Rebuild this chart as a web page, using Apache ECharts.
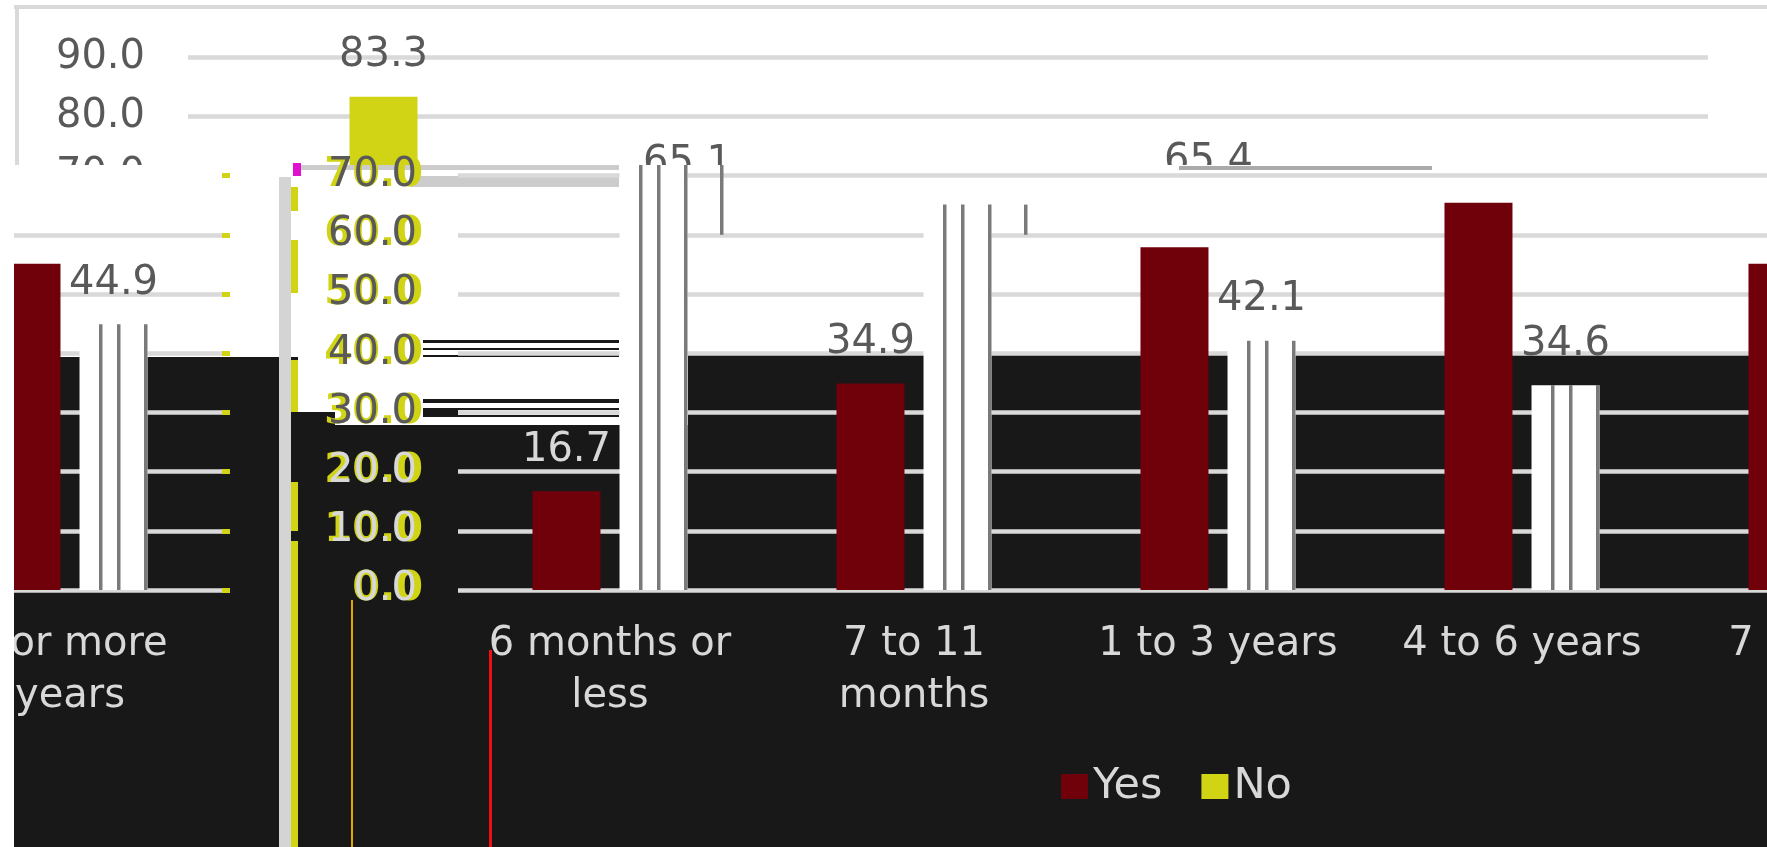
<!DOCTYPE html>
<html>
<head>
<meta charset="utf-8">
<style>html,body{margin:0;padding:0;background:#fff;overflow:hidden}#w{position:relative;width:1767px;height:847px;overflow:hidden}#c{position:absolute;left:-1400px;top:-10px;width:3400px;height:857px}</style>
<script src="https://cdn.jsdelivr.net/npm/echarts@6/dist/echarts.min.js"></script>
</head>
<body>
<div id="w"><div id="c"></div></div>
<script>
const categories = ['6 months or\nless', '7 to 11\nmonths', '1 to 3 years', '4 to 6 years', '7 or more\nyears'];
const yesValues = [16.7, 34.9, 57.9, 65.4, 55.1];
const noValues = [83.3, 65.1, 42.1, 34.6, 44.9];

const RED = '#70000a', YEL = '#d0d415', DARK = '#181818', GRID = '#d9d9d9', TXT = '#595959', LIGHT = '#d8d8d8';
const FONT = '"DejaVu Sans", sans-serif', FS = 40;
const OX = 1400, OY = 10;
const BAND_TOP = 165, AXIS_Y = 590, PX10 = 59.2;
const gridHeight = AXIS_Y - BAND_TOP, lowMax = gridHeight / PX10 * 10;

function fmt(v) { return Math.abs(v / 10 - Math.round(v / 10)) < 1e-6 ? v.toFixed(1) : ''; }
function rect(x, y, w, h, fill, z) {
  return { type: 'rect', silent: true, z: z, shape: { x: x + OX, y: y + OY, width: w, height: h }, style: { fill } };
}
const splitLine = { show: true, showMaxLine: false, lineStyle: { color: GRID, width: 4.5 } };
function xAx(gridIndex, z, labels) {
  return { type: 'category', gridIndex, z, data: categories, axisLine: { show: false }, axisTick: { show: false },
    axisLabel: labels ? { show: true, interval: 0, color: LIGHT, fontFamily: FONT, fontSize: FS, lineHeight: 52, margin: 29, hideOverlap: false } : { show: false } };
}
function stripes(params, api) {
  const i = api.value(0), v = api.value(1);
  const c = api.coord([i, v]), base = api.coord([i, 0]);
  const kids = [29, 47, 74].map(o => ({ type: 'rect', shape: { x: c[0] + o, y: c[1], width: 3.5, height: base[1] - c[1] }, style: { fill: '#7a7a7a' } }));
  if (v > 60) {
    const t = api.coord([i, 60]);
    kids.push({ type: 'rect', shape: { x: c[0] + 110, y: c[1], width: 3.5, height: t[1] - c[1] }, style: { fill: '#7a7a7a' } });
  }
  return { type: 'group', children: kids };
}
function barLabel(color) {
  return { show: true, position: 'top', distance: 21, color, fontFamily: FONT, fontSize: FS, formatter: p => p.value.toFixed(1) };
}
function labelled(arr, shown, color) {
  return arr.map((v, i) => ({ value: v, label: shown.includes(i) ? barLabel(color(i)) : { show: false } }));
}
function panelSeries(ax, z, yesShown, noShown, yesColor) {
  return [
    { name: 'Yes', type: 'bar', xAxisIndex: ax, yAxisIndex: ax, z, barWidth: 68, barGap: '28%', itemStyle: { color: RED }, data: labelled(yesValues, yesShown, yesColor) },
    { name: 'No', type: 'bar', xAxisIndex: ax, yAxisIndex: ax, z, barWidth: 68, barGap: '28%', itemStyle: { color: '#ffffff' }, data: labelled(noValues, noShown, () => TXT) },
    { name: 'No', type: 'custom', xAxisIndex: ax, yAxisIndex: ax, z: z + 1, clip: true, silent: true, renderItem: stripes, encode: { x: 0, y: 1 }, data: noValues.map((v, i) => [i, v]) }
  ];
}

const backdrop = [
  rect(-1400, 165, 3400, 692, '#ffffff', 5),
  rect(14, 5, 1753, 4, GRID, 6), rect(15, 7, 4, 158, GRID, 6),
  rect(14, 357, 265, 490, DARK, 6),
  rect(291, 412, 44, 435, DARK, 6),
  rect(291, 357, 7, 55, DARK, 6),
  rect(335, 425, 353, 422, DARK, 6),
  rect(688, 355, 1079, 492, DARK, 6),
  rect(423, 340, 196, 3, DARK, 6), rect(423, 348, 196, 2, DARK, 6), rect(423, 355, 196, 2, DARK, 6),
  rect(423, 399, 196, 4, DARK, 6), rect(423, 408, 196, 2, DARK, 6), rect(423, 415, 196, 2, DARK, 6), rect(423, 408, 35, 9, DARK, 6),
  rect(1179, 166, 253, 4, '#aaaaaa', 6),
  rect(301, 165, 318, 5, '#cccccc', 6), rect(410, 176, 209, 11, '#cccccc', 6),
  // overlays
  rect(-1400, -10, 1414, 857, '#ffffff', 30),
  rect(279, 177, 12, 670, '#d4d4d4', 30),
  rect(291, 187, 7, 24, YEL, 30), rect(291, 240, 7, 53, YEL, 30), rect(291, 360, 7, 52, YEL, 30),
  rect(291, 482, 7, 49, YEL, 30), rect(291, 541, 7, 306, YEL, 30),
  rect(293, 163, 8, 13, '#e010d0', 30),
  rect(351, 600, 2, 247, '#e0a800', 30),
  rect(489, 650, 3, 197, '#f01010', 30)
];

const option = {
  animation: false,
  backgroundColor: '#ffffff',
  textStyle: { fontFamily: FONT },
  graphic: { elements: backdrop },
  legend: { z: 40, left: 1056 + OX, top: 760 + OY, icon: 'rect', itemWidth: 27, itemHeight: 25, itemGap: 39,
    data: ['Yes', 'No'], selectedMode: false, textStyle: { color: LIGHT, fontFamily: FONT, fontSize: 43 } },
  grid: [
    { left: 188 + OX, width: 1520, top: AXIS_Y - 10 * PX10 + OY, height: 10 * PX10 },
    { left: 458 - 1756 + OX, width: 1520, top: BAND_TOP + OY, height: gridHeight },
    { left: 458 + OX, width: 1520, top: BAND_TOP + OY, height: gridHeight }
  ],
  xAxis: [xAx(0, 0, false), xAx(1, 10, true), xAx(2, 20, true)],
  yAxis: [
    { type: 'value', gridIndex: 0, min: 0, max: 100, interval: 10, axisLine: { show: false }, axisTick: { show: false },
      splitLine: { show: true, showMaxLine: false, lineStyle: { color: GRID, width: 4.5 } },
      axisLabel: { color: TXT, fontFamily: FONT, fontSize: FS, margin: 43, formatter: v => (v < 100 ? v.toFixed(1) : '') } },
    { type: 'value', gridIndex: 1, z: 10, position: 'right', min: 0, max: lowMax, interval: 10, axisLine: { show: false },
      axisTick: { show: true, length: 8, lineStyle: { color: YEL, width: 5 }, customValues: [0, 10, 20, 30, 40, 50, 60, 70] },
      splitLine, axisLabel: { show: false } },
    { type: 'value', gridIndex: 2, z: 20, min: 0, max: lowMax, interval: 10, axisLine: { show: false }, axisTick: { show: false }, splitLine,
      axisLabel: { fontFamily: FONT, fontSize: FS, margin: 41, formatter: fmt, color: v => (Number(v) <= 20 ? LIGHT : TXT) } },
    { type: 'value', gridIndex: 2, z: 19, position: 'left', min: 0, max: lowMax, interval: 10, axisLine: { show: false }, axisTick: { show: false }, splitLine: { show: false },
      axisLabel: { fontFamily: FONT, fontSize: FS, fontWeight: 'bold', margin: 35, formatter: fmt, color: YEL } }
  ],
  series: [
    { name: 'Yes', type: 'bar', xAxisIndex: 0, yAxisIndex: 0, z: 2, barWidth: 68, barGap: '28%', itemStyle: { color: RED }, data: yesValues.map((v, i) => ({ value: v, label: i === 3 ? barLabel(TXT) : { show: false } })) },
    { name: 'No', type: 'bar', xAxisIndex: 0, yAxisIndex: 0, z: 2, barWidth: 68, barGap: '28%', itemStyle: { color: YEL }, data: noValues.map((v, i) => ({ value: v, label: i <= 1 ? barLabel(TXT) : { show: false } })) }
  ].concat(
    panelSeries(1, 11, [], [4], () => TXT),
    panelSeries(2, 21, [0, 1], [2, 3], i => (i === 0 ? LIGHT : TXT))
  )
};
const chart = echarts.init(document.getElementById('c'), null, { renderer: 'canvas' });
chart.setOption(option);
</script>
</body>
</html>
